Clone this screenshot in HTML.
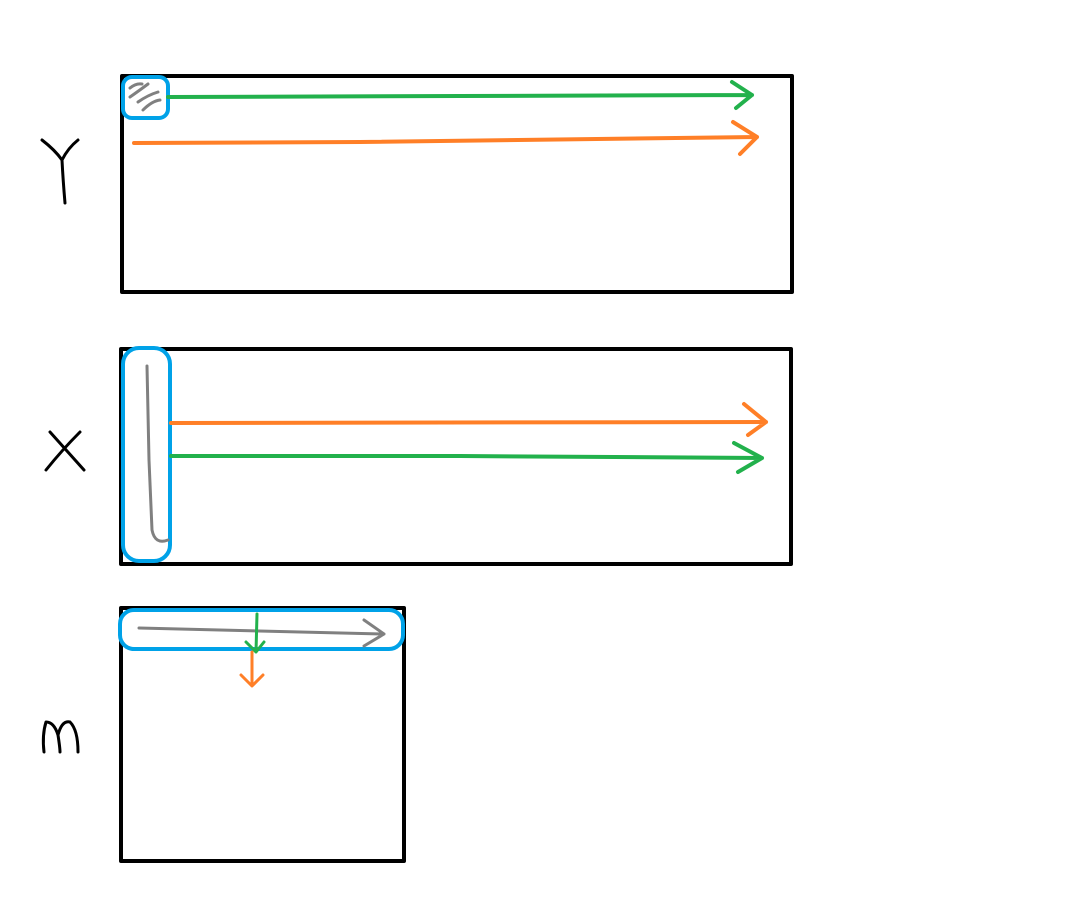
<!DOCTYPE html>
<html><head><meta charset="utf-8"><style>
html,body{margin:0;padding:0;background:#fff;}
svg{display:block;}
</style></head><body>
<svg width="1069" height="912" viewBox="0 0 1069 912" xmlns="http://www.w3.org/2000/svg">
<g fill="none" stroke-linecap="round" stroke-linejoin="round">
  <!-- Labels -->
  <g stroke="#000" stroke-width="3">
    <path d="M42 140 Q55 150 62 160 Q68 148 78 140 M62 160 Q63 180 65 203"/>
  </g>
  <g stroke="#000" stroke-width="3">
    <path d="M50 432 Q68 452 84 470 M80 432 Q62 450 46 470"/>
  </g>
  <g stroke="#000" stroke-width="3">
    <path d="M44 752 Q42 735 46 722 Q54 722 58 735 Q60 748 60 752 M58 735 Q62 720 70 722 Q78 730 78 752"/>
  </g>

  <!-- Box Y -->
  <rect x="122" y="76" width="670" height="216" stroke="#000" stroke-width="4"/>
  <rect x="123" y="77" width="45" height="41" rx="9" stroke="#00a2e8" stroke-width="4" fill="#fff"/>
  <g stroke="#808080" stroke-width="3">
    <path d="M130 88 Q136 83 142 84"/>
    <path d="M130 97 Q140 90 148 84"/>
    <path d="M138 102 Q148 95 158 92"/>
    <path d="M143 110 Q152 101 160 100"/>
  </g>
  <path d="M168 97 L460 96 L752 95 M732 82 L752 95 L736 108" stroke="#22b14c" stroke-width="4"/>
  <path d="M134 143 L360 142 L757 137 M733 122 L757 137 L740 154" stroke="#ff7f27" stroke-width="4"/>

  <!-- Box X -->
  <rect x="121" y="349" width="670" height="215" stroke="#000" stroke-width="4"/>
  <rect x="123" y="348" width="47" height="213" rx="16" stroke="#00a2e8" stroke-width="4" fill="#fff"/>
  <path d="M147 366 L149 460 L152 530 Q155 545 168 540" stroke="#808080" stroke-width="3"/>
  <path d="M171 423 L766 422 M744 404 L766 422 L748 435" stroke="#ff7f27" stroke-width="4"/>
  <path d="M171 456 L460 456 L762 458 M734 443 L762 458 L738 472" stroke="#22b14c" stroke-width="4"/>

  <!-- Box M -->
  <rect x="121" y="608" width="283" height="253" stroke="#000" stroke-width="4"/>
  <rect x="120" y="610" width="283" height="39" rx="14" stroke="#00a2e8" stroke-width="4" fill="#fff"/>
  <path d="M139 628 L384 634 M364 620 L384 634 L364 646" stroke="#808080" stroke-width="3"/>
  <path d="M257 614 L256 652 M246 642 L256 652 L264 642" stroke="#22b14c" stroke-width="3"/>
  <path d="M252 652 L252 685 M241 675 L252 686 L263 675" stroke="#ff7f27" stroke-width="3"/>
</g>
</svg>
</body></html>
